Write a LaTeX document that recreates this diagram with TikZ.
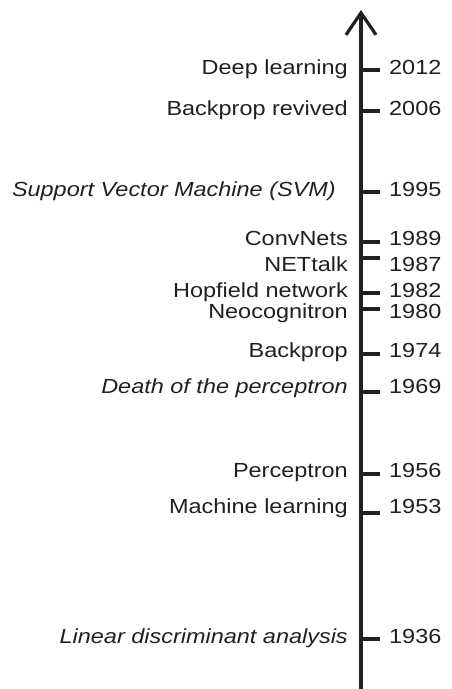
\documentclass[tikz,border=0pt]{standalone}
\usepackage{fontspec}
\setmainfont{Liberation Sans}[FakeStretch=1.15]
\usetikzlibrary{arrows.meta, positioning}
\definecolor{inkblack}{RGB}{35, 31, 32}

\begin{document}
\begin{tikzpicture}[x=1pt, y=-1pt,
    axisline/.style={draw=inkblack, line width=3.2pt, -{Straight Barb[length=22pt, width=30pt]}},
    tickline/.style={draw=inkblack, line width=3.2pt},
    event/.style={inner sep=0pt, text=inkblack, font=\fontsize{20.4}{24}\selectfont, anchor=base east},
    year/.style={inner sep=0pt, text=inkblack, font=\fontsize{20.4}{24}\selectfont, anchor=base west}]
  \useasboundingbox (0,0) rectangle (451,689);
  \coordinate (base) at (361,689);
  \coordinate (tip) at (361,10);
  \draw[axisline] (base) -- (tip);
  \foreach \yr/\ty/\by/\lx/\txt in {
      2012/70/74/348/{Deep learning},
      2006/111/115/348/{Backprop revived},
      1995/192/196/336/{\textit{Support Vector Machine (SVM)}},
      1989/242/245/348/{ConvNets},
      1987/258/271/348/{NETtalk},
      1982/293/297/348/{Hopfield network},
      1980/309/318/348/{Neocognitron},
      1974/354/357/348/{Backprop},
      1969/392/393/348/{\textit{Death of the perceptron}},
      1956/474/477/348/{Perceptron},
      1953/513/513/348/{Machine learning},
      1936/639/643/348/{\textit{Linear discriminant analysis}}} {
    \coordinate (ax\yr) at (361,\ty);
    \coordinate (tk\yr) at (380,\ty);
    \draw[tickline] (ax\yr) -- (tk\yr);
    \node[event] (lab\yr) at (\lx,\by) {\txt};
    \node[year] (yr\yr) at (389,\by) {\yr};
  }
\end{tikzpicture}
\end{document}
